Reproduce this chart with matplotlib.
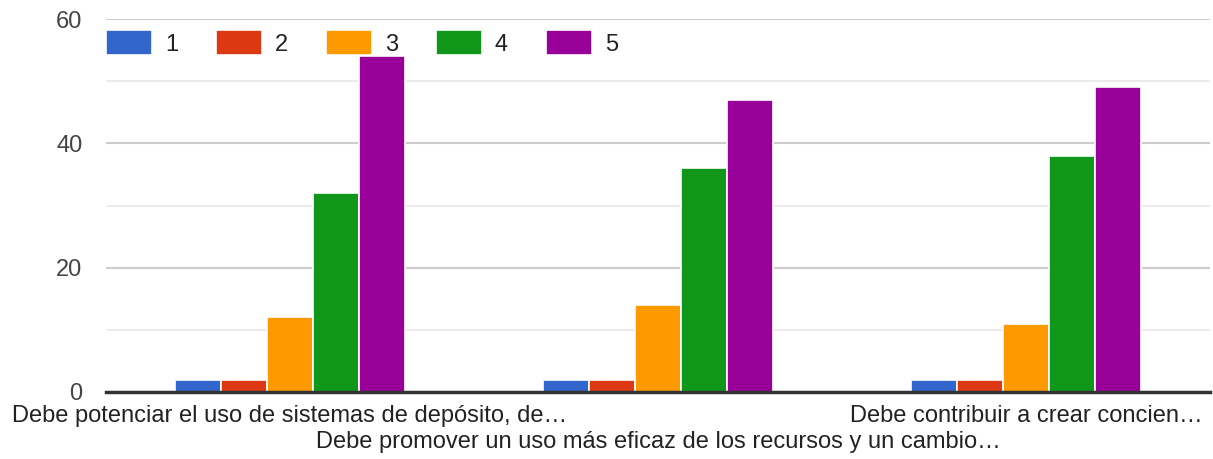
import matplotlib.pyplot as plt
import numpy as np

plt.rcParams['font.family'] = ['Liberation Sans', 'DejaVu Sans']

categories = [
    "Debe potenciar el uso de sistemas de depósito, de…",
    "Debe promover un uso más eficaz de los recursos y un cambio…",
    "Debe contribuir a crear concien…",
]
series_names = ["1", "2", "3", "4", "5"]
values = {
    "1": [2, 2, 2],
    "2": [2, 2, 2],
    "3": [12, 14, 11],
    "4": [32, 36, 38],
    "5": [54, 47, 49],
}
colors = ["#3366cc", "#dc3912", "#ff9900", "#109618", "#990099"]

W, H = 1213, 459
fig = plt.figure(figsize=(W / 100, H / 100), dpi=100)
ax = fig.add_axes([106 / W, 67 / H, 1104 / W, 373 / H])

x = np.arange(len(categories))
w = 46 / 368
for i, name in enumerate(series_names):
    ax.bar(x + (i - 2) * w, values[name], width=w, color=colors[i],
           edgecolor="white", linewidth=1.2, label=name, zorder=3)

ax.set_ylim(0, 60)
ax.set_xlim(-0.5, 2.5)
ax.set_yticks([0, 20, 40, 60])
ax.set_yticks([10, 30, 50], minor=True)
ax.grid(axis="y", which="major", color="#cccccc", linewidth=1.5, zorder=0)
ax.grid(axis="y", which="minor", color="#ebebeb", linewidth=1.5, zorder=0)
ax.tick_params(axis="y", which="both", length=0, pad=17, labelsize=17, labelcolor="#444444")
ax.set_xticks([])
for s in ["top", "right", "left"]:
    ax.spines[s].set_visible(False)
ax.spines["bottom"].set_color("#333333")
ax.spines["bottom"].set_linewidth(2.5)
ax.spines["bottom"].set_zorder(4)

# category labels, staggered like the original
lab = dict(transform=ax.get_xaxis_transform(), va="baseline", fontsize=17, color="#222222")
ax.text(x[0], -30 / 373, categories[0], ha="center", **lab)
ax.text(x[1], -56 / 373, categories[1], ha="center", **lab)
ax.text(2.5 - 7 / 368, -30 / 373, categories[2], ha="right", **lab)

leg = ax.legend(loc="center left", bbox_to_anchor=(0.0, (392 - 43) / 373), ncol=5,
                frameon=False, fontsize=17, handlelength=1.95, handleheight=1.2,
                columnspacing=1.6, handletextpad=0.55, borderaxespad=0, borderpad=0)
for t in leg.get_texts():
    t.set_color("#222222")

fig.savefig("out.png", dpi=100)
